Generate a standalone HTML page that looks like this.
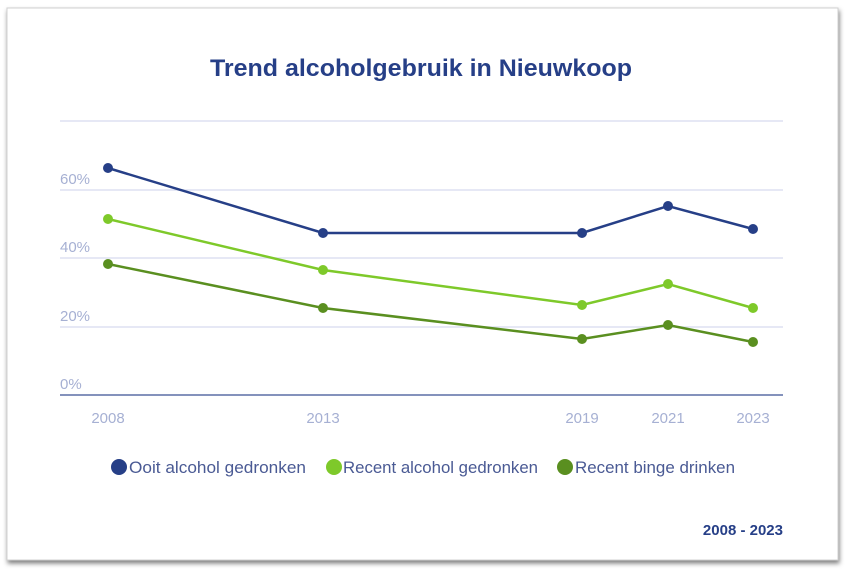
<!DOCTYPE html>
<html><head><meta charset="utf-8"><style>
body{margin:0;width:852px;height:576px;background:#fff;overflow:hidden}
svg{position:absolute;left:0;top:0}
text{font-family:"Liberation Sans",sans-serif}
</style></head><body>
<svg width="852" height="576" viewBox="0 0 852 576">
<defs><filter id="sh" x="-5%" y="-5%" width="110%" height="110%"><feDropShadow dx="1" dy="3" stdDeviation="2.5" flood-color="#000" flood-opacity="0.5"/></filter></defs>
<rect x="7" y="8" width="831" height="552" fill="#fff" stroke="#d0d0d0" stroke-width="1" filter="url(#sh)"/>
<text x="210" y="76" textLength="422" lengthAdjust="spacingAndGlyphs" font-size="24" font-weight="bold" fill="#263f87">Trend alcoholgebruik in Nieuwkoop</text>
<g stroke="#dde1f2" stroke-width="1.5">
<line x1="60" y1="121" x2="783" y2="121"/><line x1="60" y1="190" x2="783" y2="190"/>
<line x1="60" y1="258" x2="783" y2="258"/><line x1="60" y1="327" x2="783" y2="327"/></g>
<line x1="60" y1="395" x2="783" y2="395" stroke="#5b6fa6" stroke-width="1.5"/>
<g font-size="15" fill="#a6b0d3">
<text x="60" y="184">60%</text><text x="60" y="252">40%</text><text x="60" y="321">20%</text><text x="60" y="389">0%</text>
</g>
<g font-size="15" fill="#a6b0d3" text-anchor="middle">
<text x="108" y="423">2008</text><text x="323" y="423">2013</text><text x="582" y="423">2019</text><text x="668" y="423">2021</text><text x="753" y="423">2023</text>
</g>
<g fill="none" stroke-width="2.5">
<polyline stroke="#263f87" points="108,168 323,233 582,233 668,206 753,229"/>
<polyline stroke="#7ec92a" points="108,219 323,270 582,305 668,284 753,308"/>
<polyline stroke="#5a8f20" points="108,264 323,308 582,339 668,325 753,342"/>
</g>
<g fill="#263f87"><circle cx="108" cy="168" r="5"/><circle cx="323" cy="233" r="5"/><circle cx="582" cy="233" r="5"/><circle cx="668" cy="206" r="5"/><circle cx="753" cy="229" r="5"/></g>
<g fill="#7ec92a"><circle cx="108" cy="219" r="5"/><circle cx="323" cy="270" r="5"/><circle cx="582" cy="305" r="5"/><circle cx="668" cy="284" r="5"/><circle cx="753" cy="308" r="5"/></g>
<g fill="#5a8f20"><circle cx="108" cy="264" r="5"/><circle cx="323" cy="308" r="5"/><circle cx="582" cy="339" r="5"/><circle cx="668" cy="325" r="5"/><circle cx="753" cy="342" r="5"/></g>
<g font-size="17" fill="#4a5a94">
<circle cx="119" cy="467" r="8" fill="#263f87"/><text x="129" y="473" textLength="177" lengthAdjust="spacingAndGlyphs">Ooit alcohol gedronken</text>
<circle cx="334" cy="467" r="8" fill="#7ec92a"/><text x="343" y="473" textLength="195" lengthAdjust="spacingAndGlyphs">Recent alcohol gedronken</text>
<circle cx="565" cy="467" r="8" fill="#5a8f20"/><text x="575" y="473" textLength="160" lengthAdjust="spacingAndGlyphs">Recent binge drinken</text>
</g>
<text x="783" y="535" text-anchor="end" font-size="15" font-weight="bold" fill="#263f87">2008 - 2023</text>
</svg>
</body></html>
